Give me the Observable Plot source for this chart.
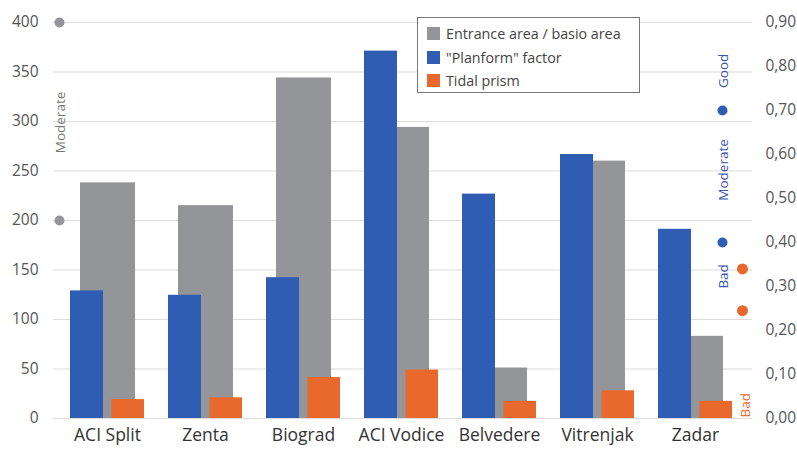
<!DOCTYPE html>
<html>
<head>
<meta charset="utf-8">
<script src="https://cdn.jsdelivr.net/npm/d3@7"></script>
<script src="https://cdn.jsdelivr.net/npm/@observablehq/plot@0.6"></script>
<style>
  html, body { margin: 0; padding: 0; background: #fff; }
  #wrap { position: relative; width: 797px; height: 450px; font-family: "Open Sans", sans-serif; }
  #legend { position: absolute; left: 417px; top: 17px; width: 223px; height: 76px; border: 1.5px solid #777; background: #fff; box-sizing: border-box; padding: 4px 0 0 9px; }
  .row { display: flex; align-items: center; height: 23.5px; font-size: 14.3px; color: #444; white-space: nowrap; }
  .sw { width: 13px; height: 13px; margin-right: 6px; flex: none; }
</style>
</head>
<body>
<div id="wrap"></div>
<script>
const categories = ["ACI Split", "Zenta", "Biograd", "ACI Vodice", "Belvedere", "Vitrenjak", "Zadar"];
const entranceRatio = [238, 215, 344, 294, 51, 260, 83];          // left axis
const planform = [0.29, 0.28, 0.32, 0.835, 0.51, 0.60, 0.43];     // right axis
const tidalPrism = [0.043, 0.047, 0.093, 0.11, 0.039, 0.063, 0.039]; // right axis
const leftTicks = [0, 50, 100, 150, 200, 250, 300, 350, 400];
const rightTicks = [0, 0.1, 0.2, 0.3, 0.4, 0.5, 0.6, 0.7, 0.8, 0.9];
const grayThresholds = [200, 400];
const blueThresholds = [0.40, 0.70];
const orangeThresholds = [0.245, 0.34];
const grayZones = [{label: "Moderate", v: 299}];
const blueZones = [{label: "Good", v: 0.79}, {label: "Moderate", v: 0.565}, {label: "Bad", v: 0.323}];
const orangeZones = [{label: "Bad", v: 0.03}];
const seriesNames = ["Entrance area / basio area", "\"Planform\" factor", "Tidal prism"];
const colors = ["#939598", "#2f5db3", "#e8692b"];

const LMAX = 400, RMAX = 0.9;
const r2l = v => v * LMAX / RMAX; // map right-axis values onto the shared y scale

const gray = categories.map((c, i) => ({c, v: entranceRatio[i]}));
const blue = categories.map((c, i) => ({c, v: r2l(planform[i])}));
const orange = categories.map((c, i) => ({c, v: r2l(tidalPrism[i])}));

const plot = Plot.plot({
  width: 797,
  height: 450,
  marginLeft: 55,
  marginRight: 50,
  marginTop: 22,
  marginBottom: 32,
  style: {fontFamily: "'Open Sans', sans-serif", background: "transparent"},
  x: {domain: categories, padding: 0, label: null},
  y: {domain: [0, LMAX], label: null},
  marks: [
    Plot.ruleY(leftTicks, {stroke: "#dcdcdc", strokeWidth: 1.2, insetLeft: -2, insetRight: -5}),
    Plot.axisY(leftTicks, {anchor: "left", tickSize: 0, tickPadding: 17, fontSize: 15.5, fill: "#555", label: null}),
    Plot.axisY(rightTicks.map(r2l), {anchor: "right", tickSize: 0, tickPadding: 18, fontSize: 15.5, fill: "#555", label: null,
      tickFormat: d => (d * RMAX / LMAX).toFixed(2).replace(".", ",")}),
    Plot.axisX({tickSize: 0, tickPadding: 10, fontSize: 17.5, fill: "#333", label: null}),
    Plot.barY(gray, {x: "c", y: "v", fill: colors[0], insetLeft: 22, insetRight: 21}),
    Plot.barY(blue, {x: "c", y: "v", fill: colors[1], insetLeft: 12, insetRight: 53}),
    Plot.barY(orange, {x: "c", y: "v", fill: colors[2], insetLeft: 53.5, insetRight: 12}),
    Plot.dot(grayThresholds, {y: d => d, frameAnchor: "left", dx: 4, r: 5, fill: colors[0]}),
    Plot.dot(blueThresholds, {y: d => r2l(d), frameAnchor: "right", dx: -25, r: 5, fill: colors[1]}),
    Plot.dot(orangeThresholds, {y: d => r2l(d), frameAnchor: "right", dx: -5, r: 5.5, fill: colors[2]}),
    Plot.text(grayZones, {y: "v", text: "label", frameAnchor: "left", textAnchor: "middle", dx: 5, rotate: -90, fontSize: 13.5, fill: "#777"}),
    Plot.text(blueZones, {y: d => r2l(d.v), text: "label", frameAnchor: "right", textAnchor: "middle", dx: -24, rotate: -90, fontSize: 13.5, fill: "#3a55a8"}),
    Plot.text(orangeZones, {y: d => r2l(d.v), text: "label", frameAnchor: "right", textAnchor: "middle", dx: -2, rotate: -90, fontSize: 13.5, fill: colors[2]})
  ]
});

const wrap = document.getElementById("wrap");
wrap.appendChild(plot);
const legend = document.createElement("div");
legend.id = "legend";
seriesNames.forEach((name, i) => {
  const row = document.createElement("div");
  row.className = "row";
  const sw = document.createElement("div");
  sw.className = "sw";
  sw.style.background = colors[i];
  const t = document.createElement("span");
  t.textContent = name;
  row.appendChild(sw);
  row.appendChild(t);
  legend.appendChild(row);
});
wrap.appendChild(legend);
</script>
</body>
</html>
